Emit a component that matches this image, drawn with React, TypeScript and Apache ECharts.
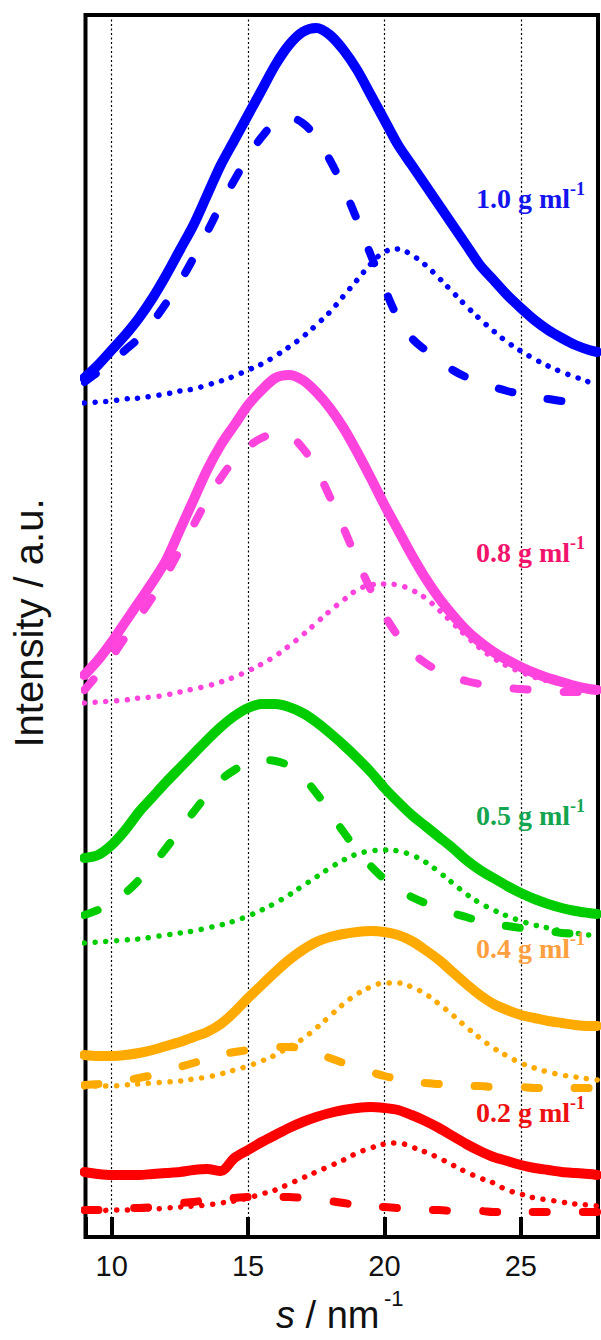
import React, { useEffect, useRef } from 'react';
import * as echarts from 'echarts';

// scattering vector s (nm^-1) at which the curves were read
const S_VALUES = [9, 9.5, 10, 10.5, 11, 11.5, 12, 12.5, 13, 13.5, 14, 14.5, 15, 15.5, 16, 16.5, 17, 17.5, 18, 18.5, 19, 19.5, 20, 20.5, 21, 21.5, 22, 22.5, 23, 23.5, 24, 24.5, 25, 25.5, 26, 26.5, 27, 27.5, 27.8];

// intensities (a.u., vertically offset per concentration)
const C10_MEASURED = [85.9, 87.2, 88.7, 90.2, 91.9, 93.9, 96.2, 98.7, 101.2, 104.2, 107.2, 109.7, 112.2, 114.7, 117.2, 119.2, 120.5, 120.9, 120.2, 118.7, 116.7, 114.2, 111.7, 109.2, 107.2, 105.2, 103.2, 101.2, 99.2, 97.2, 95.7, 94.2, 92.9, 91.7, 90.7, 89.9, 89.2, 88.7, 88.5];
const C10_PEAK1 = [85.5, 86.5, 87.5, 88.7, 89.9, 91.5, 93.4, 95.5, 97.9, 100.5, 103.2, 105.7, 108.0, 110.0, 111.4, 111.9, 111.4, 109.9, 107.7, 104.9, 101.7, 98.2, 94.9, 91.9, 89.9, 88.7, 87.7, 86.7, 86.0, 85.5, 85.0, 84.6, 84.3, 84.0, 83.8, 83.6, 83.5, 83.4, 83.4];
const C10_PEAK2 = [83.4, 83.5, 83.6, 83.8, 83.9, 84.1, 84.3, 84.6, 84.8, 85.2, 85.6, 86.1, 86.7, 87.3, 88.1, 89.0, 90.0, 91.2, 92.5, 94.1, 95.7, 97.3, 98.5, 98.8, 98.2, 97.2, 95.9, 94.5, 93.1, 91.8, 90.6, 89.5, 88.6, 87.8, 87.1, 86.5, 86.0, 85.5, 85.2];

const C08_MEASURED = [56.2, 57.7, 59.5, 61.5, 63.5, 65.5, 67.7, 70.7, 73.7, 76.7, 79.2, 81.2, 83.2, 84.7, 85.9, 86.2, 85.7, 84.5, 82.9, 80.9, 78.5, 75.9, 73.2, 70.7, 68.2, 65.9, 63.9, 62.2, 60.7, 59.5, 58.5, 57.7, 57.0, 56.4, 55.9, 55.5, 55.1, 54.8, 54.7];
const C08_PEAK1 = [54.7, 56.3, 58.0, 60.0, 62.0, 64.0, 66.2, 68.7, 71.2, 73.7, 75.9, 77.7, 79.0, 79.9, 80.3, 80.1, 78.9, 76.8, 74.0, 70.9, 67.7, 64.7, 62.2, 60.1, 58.5, 57.4, 56.6, 56.0, 55.6, 55.3, 55.1, 54.9, 54.8, 54.7, 54.6, 54.5, 54.5, 54.4, 54.4];
const C08_PEAK2 = [53.4, 53.5, 53.6, 53.7, 53.9, 54.0, 54.2, 54.5, 54.8, 55.1, 55.5, 56.0, 56.6, 57.3, 58.1, 59.1, 60.2, 61.4, 62.6, 63.7, 64.7, 65.2, 65.3, 65.2, 64.7, 63.9, 62.7, 61.4, 60.1, 58.9, 57.9, 57.1, 56.5, 56.0, 55.6, 55.3, 55.0, 54.8, 54.7];

const C05_MEASURED = [37.9, 38.2, 39.2, 40.7, 42.5, 44.0, 45.5, 46.9, 48.3, 49.7, 51.0, 52.1, 52.9, 53.3, 53.3, 53.0, 52.4, 51.5, 50.4, 49.2, 47.9, 46.5, 44.9, 43.5, 42.2, 41.1, 40.0, 38.9, 37.7, 36.7, 35.9, 35.1, 34.4, 33.8, 33.3, 32.9, 32.6, 32.4, 32.3];
const C05_PEAK1 = [32.2, 32.7, 33.4, 34.4, 35.7, 37.2, 38.9, 40.7, 42.5, 44.2, 45.7, 46.7, 47.4, 47.7, 47.6, 47.1, 46.0, 44.4, 42.5, 40.5, 38.7, 37.1, 35.8, 34.8, 34.0, 33.4, 32.9, 32.4, 32.0, 31.6, 31.3, 31.1, 30.9, 30.7, 30.6, 30.4, 30.3, 30.1, 30.0];
const C05_PEAK2 = [29.4, 29.5, 29.6, 29.7, 29.8, 30.0, 30.2, 30.4, 30.6, 30.9, 31.2, 31.6, 32.1, 32.7, 33.4, 34.2, 35.1, 36.0, 36.9, 37.7, 38.3, 38.6, 38.7, 38.6, 38.2, 37.5, 36.5, 35.4, 34.3, 33.4, 32.7, 32.1, 31.6, 31.2, 30.9, 30.6, 30.4, 30.2, 30.1];

const C04_MEASURED = [18.2, 18.1, 18.1, 18.2, 18.4, 18.7, 19.1, 19.5, 20.0, 20.5, 21.3, 22.5, 23.9, 25.2, 26.5, 27.7, 28.7, 29.5, 30.0, 30.3, 30.5, 30.6, 30.5, 30.2, 29.6, 28.7, 27.7, 26.5, 25.3, 24.2, 23.3, 22.7, 22.2, 21.9, 21.6, 21.4, 21.2, 21.1, 21.1];
const C04_PEAK1 = [15.2, 15.3, 15.5, 15.7, 15.9, 16.2, 16.6, 17.0, 17.4, 17.8, 18.2, 18.5, 18.7, 18.9, 19.0, 19.0, 18.8, 18.4, 17.9, 17.4, 16.9, 16.5, 16.1, 15.8, 15.6, 15.4, 15.3, 15.2, 15.1, 15.1, 15.0, 15.0, 15.0, 14.9, 14.9, 14.9, 14.9, 14.9, 14.9];
const C04_PEAK2 = [15.0, 15.1, 15.1, 15.2, 15.3, 15.4, 15.5, 15.6, 15.8, 16.0, 16.3, 16.7, 17.1, 17.6, 18.2, 19.0, 19.8, 20.9, 22.1, 23.3, 24.3, 25.0, 25.4, 25.4, 25.0, 24.3, 23.3, 22.2, 21.0, 19.9, 18.9, 18.1, 17.4, 16.9, 16.5, 16.2, 16.0, 15.8, 15.7];

const C02_MEASURED = [6.5, 6.3, 6.2, 6.2, 6.2, 6.3, 6.4, 6.5, 6.7, 6.8, 6.6, 7.9, 8.7, 9.5, 10.2, 10.9, 11.5, 12.0, 12.4, 12.7, 12.9, 13.0, 12.9, 12.7, 12.2, 11.6, 10.9, 10.1, 9.3, 8.6, 8.0, 7.6, 7.2, 6.9, 6.7, 6.5, 6.4, 6.3, 6.2];
const C02_PEAK1 = [2.7, 2.7, 2.8, 2.9, 2.9, 3.0, 3.2, 3.4, 3.5, 3.7, 3.8, 3.9, 4.0, 4.0, 4.0, 4.0, 3.9, 3.8, 3.6, 3.4, 3.2, 3.1, 3.0, 2.9, 2.8, 2.7, 2.7, 2.6, 2.6, 2.6, 2.5, 2.5, 2.5, 2.5, 2.5, 2.5, 2.5, 2.5, 2.5];
const C02_PEAK2 = [2.6, 2.6, 2.7, 2.7, 2.8, 2.8, 2.9, 3.0, 3.1, 3.2, 3.4, 3.6, 3.9, 4.3, 4.7, 5.3, 5.9, 6.5, 7.1, 7.7, 8.4, 8.9, 9.3, 9.4, 9.0, 8.5, 7.9, 7.2, 6.5, 5.9, 5.4, 4.7, 4.3, 3.9, 3.7, 3.5, 3.3, 3.2, 3.1];

const CONC_LABELS = ['1.0 g ml', '0.8 g ml', '0.5 g ml', '0.4 g ml', '0.2 g ml'];
const X_TICKS = [10, 15, 20, 25];

const SETS = [
  { m: C10_MEASURED, p1: C10_PEAK1, p2: C10_PEAK2, color: '#0000ff', text: '#1414ee', ly: 198 },
  { m: C08_MEASURED, p1: C08_PEAK1, p2: C08_PEAK2, color: '#ff44dd', text: '#f2146c', ly: 552 },
  { m: C05_MEASURED, p1: C05_PEAK1, p2: C05_PEAK2, color: '#00cc00', text: '#14a550', ly: 815 },
  { m: C04_MEASURED, p1: C04_PEAK1, p2: C04_PEAK2, color: '#ffaa00', text: '#ffa040', ly: 948 },
  { m: C02_MEASURED, p1: C02_PEAK1, p2: C02_PEAK2, color: '#ff0000', text: '#ee1111', ly: 1112 },
];

const pair = (arr: number[]) => S_VALUES.map((s, i) => [s, arr[i]]);

export default function App() {
  const ref = useRef<HTMLDivElement>(null);
  useEffect(() => {
    document.body.style.margin = '0';
    if (!ref.current) return;
    const chart = echarts.init(ref.current, undefined, { renderer: 'svg' });
    const series: any[] = [];
    SETS.forEach((set) => {
      series.push({
        type: 'line', data: pair(set.m), showSymbol: false, smooth: 0.3, z: 3,
        lineStyle: { color: set.color, width: 10, join: 'round', cap: 'round' },
      });
      series.push({
        type: 'line', data: pair(set.p1), showSymbol: false, smooth: 0.4, z: 4,
        lineStyle: { color: set.color, width: 8, type: [14, 36], cap: 'round' },
      });
      series.push({
        type: 'line', data: pair(set.p2), showSymbol: false, smooth: 0.4, z: 4,
        lineStyle: { color: set.color, width: 5.5, type: [0.1, 10.6], cap: 'round' },
      });
    });
    const graphics: any[] = SETS.map((set, k) => ({
      type: 'text', x: 476, y: set.ly, z: 10,
      style: {
        text: `{a|${CONC_LABELS[k]}}{b|-1}`,
        align: 'left', verticalAlign: 'middle',
        rich: {
          a: { fontSize: 28, lineHeight: 36, fontWeight: 'bold', fontFamily: 'Liberation Serif', fill: set.text },
          b: { fontSize: 18, lineHeight: 18, fontWeight: 'bold', fontFamily: 'Liberation Serif', fill: set.text, verticalAlign: 'top' },
        },
      },
    }));
    graphics.push({
      type: 'text', x: 276, y: 1315, z: 10,
      style: {
        text: '{i|s}{n| / nm}', align: 'left', verticalAlign: 'middle',
        rich: {
          i: { fontSize: 38, lineHeight: 34, fontStyle: 'italic', fontFamily: 'Liberation Sans', fill: '#111' },
          n: { fontSize: 38, lineHeight: 34, fontFamily: 'Liberation Sans', fill: '#111' },
        },
      },
    });
    graphics.push({
      type: 'text', x: 384, y: 1298, z: 10,
      style: { text: '-1', align: 'left', verticalAlign: 'middle', fontSize: 22, fontFamily: 'Liberation Sans', fill: '#111' },
    });
    graphics.push({
      type: 'text', x: 29, y: 623, rotation: Math.PI / 2, z: 10,
      style: { text: 'Intensity / a.u.', align: 'center', verticalAlign: 'middle', fontSize: 40, fontFamily: 'Liberation Sans', fill: '#111' },
    });
    chart.setOption({
      animation: false,
      grid: { left: 85.5, right: 2, top: 15, bottom: 103, show: true, borderWidth: 4, borderColor: '#000', backgroundColor: 'transparent' },
      xAxis: {
        type: 'value', min: 9.04, max: 27.83, splitNumber: 4, minInterval: 5, maxInterval: 5,
        axisLine: { show: false },
        axisTick: { show: true, inside: true, length: 20, lineStyle: { color: '#000', width: 4 } },
        axisLabel: {
          fontSize: 29, color: '#111', fontFamily: 'Liberation Sans', margin: 14,
          formatter: (v: number) => (X_TICKS.includes(Math.round(v * 100) / 100) ? String(v) : ''),
        },
        splitLine: { show: true, lineStyle: { color: '#000', width: 1.2, type: [2, 2.5] } },
      },
      yAxis: {
        type: 'value', min: 0, max: 122.2, show: false,
        splitLine: { show: false },
      },
      series,
      graphic: graphics,
    });
    return () => chart.dispose();
  }, []);
  return <div ref={ref} style={{ width: 601, height: 1340 }} />;
}
